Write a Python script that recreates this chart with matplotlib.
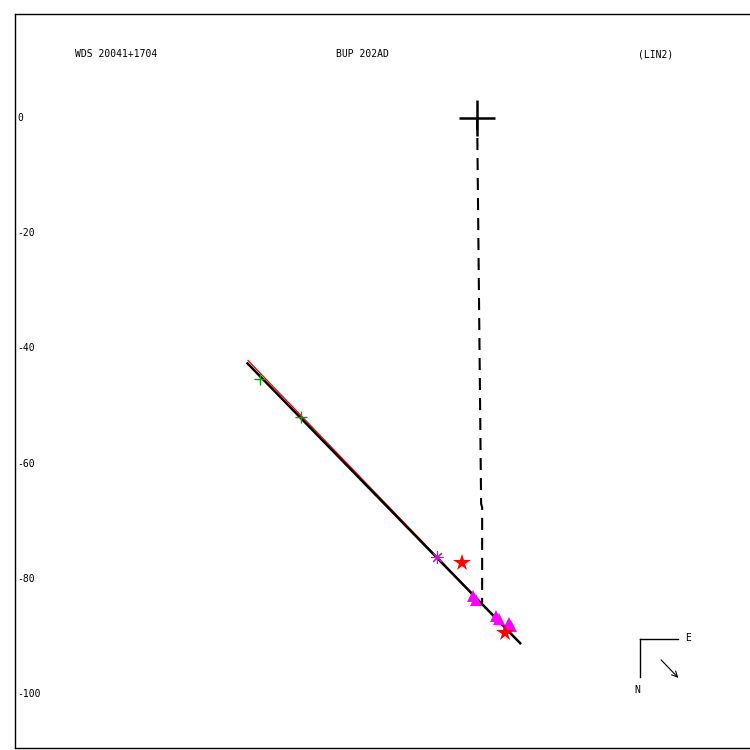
import numpy as np
import matplotlib
matplotlib.use("Agg")
import matplotlib.pyplot as plt

# scale of the plot: 5.76 px per arcsec unit, primary at the origin
title_left = "WDS 20041+1704"
title_mid = "BUP 202AD"
title_right = "(LIN2)"
yticks = [0, -20, -40, -60, -80, -100]

# orbit lines (new = black, old = red)
orbit_x = [-39.84, 7.47]
orbit_y = [-42.62, -91.20]
old_x = [-39.76, 7.29]
old_y = [-42.10, -91.04]

# line from primary to the predicted position
node_x = [0.0, 0.69, 0.87, 0.87]
node_y = [0.0, -67.0, -67.6, -84.2]

# observations
green_x = [-37.67, -30.56]
green_y = [-45.31, -51.91]
ast_x = [-7.0]
ast_y = [-76.27]
star_x = [-2.66, 4.86]
star_y = [-77.31, -89.40]
tri_x = [-0.70, -0.20, 3.30, 3.75, 5.45, 5.80]
tri_y = [-83.00, -83.70, -86.50, -87.00, -87.70, -88.30]

fig = plt.figure(figsize=(7.5, 7.5), dpi=100)
ax = fig.add_axes([15/750, 2/750, 737/750, 734/750])
ax.set_xlim(-80.2, 47.7)
ax.set_ylim(-109.4, 18.06)
ax.set_xticks([])
ax.set_yticks([])
for s in ax.spines.values():
    s.set_linewidth(1.0)
    s.set_color('black')

mono = 'DejaVu Sans Mono'
ax.plot(old_x, old_y, color='red', lw=0.9, zorder=2)
ax.plot(orbit_x, orbit_y, color='black', lw=1.8, zorder=3)
ax.plot(node_x, node_y, color='black', lw=1.5, dashes=(5.8, 3.8), zorder=3)

# primary
ax.plot([0], [0], marker='+', color='black', ms=26, mew=1.8, zorder=4)

ax.plot(green_x, green_y, ls='none', marker='+', color='#00a000', ms=9, mew=1.0, zorder=5)
ax.plot(ast_x, ast_y, ls='none', marker=(8, 2, 0), color='#e000e0', ms=9, mew=0.8, zorder=5)
ax.plot(tri_x, tri_y, ls='none', marker='^', color='#ff00ff', ms=9, mew=0, zorder=4)
ax.plot(star_x, star_y, ls='none', marker='*', color='red', ms=13, mew=0, zorder=5)

# labels
ty = -(54-118)/5.76
ax.text((75-477)/5.76, ty, title_left, family=mono, fontsize=7, va='center', ha='left')
ax.text((336-477)/5.76, ty, title_mid, family=mono, fontsize=7, va='center', ha='left')
ax.text((638-477)/5.76, ty, title_right, family=mono, fontsize=7, va='center', ha='left')
for t in yticks:
    ax.text((17-477)/5.76, t, str(t), family=mono, fontsize=7, va='center', ha='left')

# compass
cx, cy = (640-477)/5.76, -(639-118)/5.76
L = 38/5.76
ax.plot([cx, cx + L], [cy, cy], color='black', lw=1.0)
ax.plot([cx, cx], [cy, cy - L], color='black', lw=1.0)
ax.text(cx + 48/5.76, cy + 0.2, 'E', family=mono, fontsize=7, va='center', ha='center')
ax.text(cx - 3/5.76, cy - 51/5.76, 'N', family=mono, fontsize=7, va='center', ha='center')
ax.annotate('', xy=(cx + 40/5.76, cy - 41/5.76), xytext=(cx + 19/5.76, cy - 19/5.76),
            arrowprops=dict(arrowstyle='->', color='black', lw=0.8))

fig.savefig('out.png', dpi=100)
